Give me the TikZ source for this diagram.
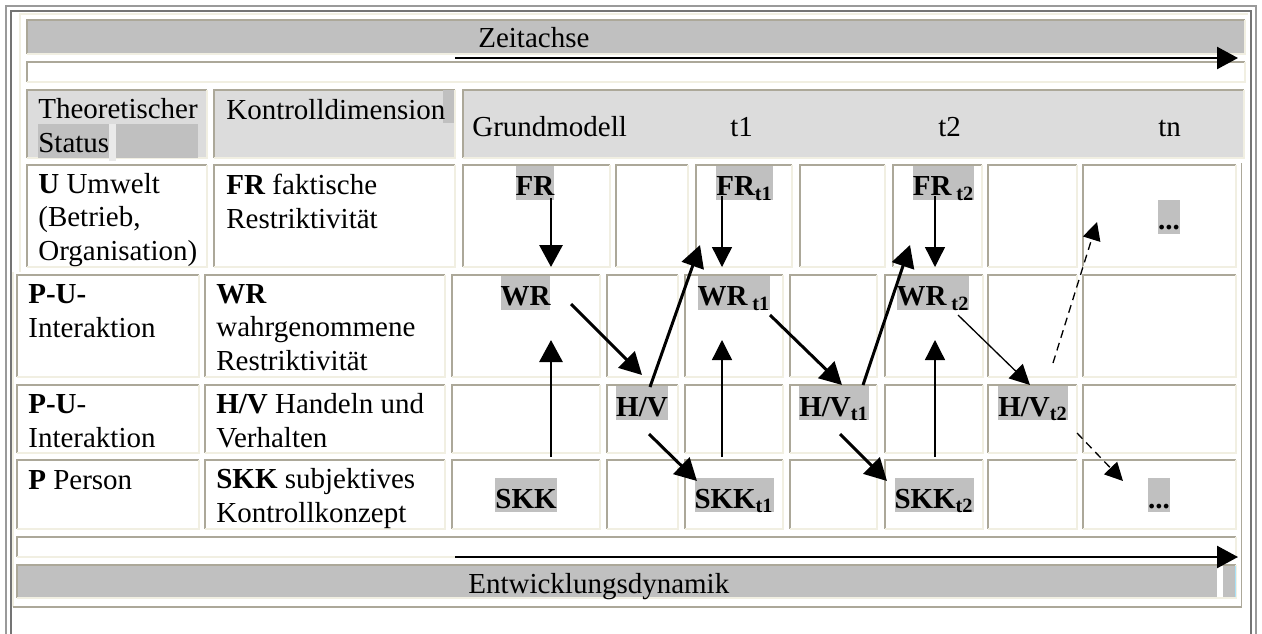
\documentclass[tikz,border=0pt]{standalone}
\usepackage{fontspec}
\setmainfont{Liberation Serif}
\usetikzlibrary{positioning}
\usetikzlibrary{arrows.meta}

\definecolor{hlgrey}{HTML}{C0C0C0}
\definecolor{headgrey}{HTML}{DCDCDC}
\definecolor{celldark}{HTML}{ACA899}
\definecolor{celllight}{HTML}{F1EFE2}
\definecolor{framegrey}{HTML}{9A9A9A}

\tikzset{
	% base anchor of a multi-line node = baseline of its last line
	txt/.style={anchor=base west, inner sep=0pt, align=left,
		font=\fontsize{16.5}{18.8}\selectfont},
	hl/.style={fill=hlgrey, inner sep=0pt, text height=0.6cm, text depth=0.08cm,
		font=\fontsize{16.5}{18.8}\selectfont\bfseries},
	thickarr/.style={line width=1.7pt, -{Triangle[length=0.44cm,width=0.46cm]}},
	thinarr/.style={line width=0.75pt, -{Triangle[length=0.40cm,width=0.40cm]}},
	dasharr/.style={line width=0.75pt, dash pattern=on 4.5pt off 3pt,
		-{Triangle[length=0.36cm,width=0.36cm]}},
	axisarr/.style={line width=1.4pt, -{Triangle[length=0.42cm,width=0.44cm]}},
}

% table cell, inset border: (#1,#2) top left, (#3,#4) bottom right, #5 fill
\newcommand{\wordcell}[5]{%
	\fill[#5] (#1,#2) rectangle (#3,#4);
	\draw[celldark, line width=0.9pt] (#1,#4) -- (#1,#2) -- (#3,#2);
	\draw[celllight, line width=0.9pt] (#3,#2) -- (#3,#4) -- (#1,#4);
}
\newcommand{\tsub}[1]{\textsubscript{#1}}

\begin{document}
\begin{tikzpicture}[x=0.02cm, y=-0.02cm]
	
	\useasboundingbox (0,0) rectangle (1262,633);
	
	% outer frame
	\draw[framegrey, line width=1.1pt] (6,6) rectangle (1256,660);
	\draw[framegrey!75!black, line width=1.1pt] (11,11) rectangle (1251,655);
	
	% table border (outset)
	\draw[celllight, line width=0.9pt] (20,272) -- (20,14) -- (1248,14);
	\draw[celllight, line width=0.9pt] (13,272) -- (13,607);
	\draw[celldark, line width=0.9pt] (1241.5,163) -- (1241.5,607) -- (13,607);
	
	% bars
	\wordcell{27}{20}{1245}{54}{hlgrey}
	\wordcell{27}{62}{1245}{82}{white}
	\wordcell{17}{537}{1236}{557}{white}
	\wordcell{17}{565}{1236}{598}{hlgrey}
	\fill[white] (1217,566) rectangle (1223,597);
	\draw[cyan!35, line width=0.6pt] (1235.5,566) -- (1235.5,597);
	
	% header row
	\wordcell{27}{90}{207}{158}{headgrey}
	\wordcell{214}{90}{455}{158}{headgrey}
	\wordcell{463}{90}{1244}{158}{headgrey}
	\fill[hlgrey] (38,124) rectangle (198,158);
	\fill[headgrey!60!white] (109,124) rectangle (116,161);
	\fill[hlgrey] (443,90) rectangle (454,123);
	
	% body rows
	\foreach \a/\b in {27/207, 214/455, 463/610, 616/688, 696/792,
		800/885, 893/982, 988/1077, 1083/1236}
		\wordcell{\a}{165}{\b}{267}{white};
	\foreach \ya/\yb in {275/377, 385/453, 460/529}
		\foreach \a/\b in {17/199, 205/445, 452/600, 607/678, 685/783,
			790/877, 885/983, 988/1077, 1083/1236}
			\wordcell{\a}{\ya}{\b}{\yb}{white};
	
	% texts
	\node[txt] (zeit) at (478,47) {Zeitachse};
	\node[txt] (entw) at (468,593) {Entwicklungsdynamik};
	
	\node[txt] (theo)  at (38,152)  {Theoretischer\\Status};
	\node[txt] (kontr) at (226,119) {Kontrolldimension};
	\node[txt] (grund) at (472,136) {Grundmodell};
	\node[txt] (tone)  at (730,136) {t1};
	\node[txt] (ttwo)  at (938,136) {t2};
	\node[txt] (tnn)   at (1158,136) {tn};
	
	\node[txt] (statU)   at (38,260)  {\textbf{U} Umwelt\\(Betrieb,\\Organisation)};
	\node[txt] (dimFR)   at (226,228) {\textbf{FR} faktische\\Restriktivität};
	\node[txt] (statPUa) at (28,337)  {\textbf{P-U-}\\Interaktion};
	\node[txt] (dimWR)   at (216,370) {\textbf{WR}\\wahrgenommene\\Restriktivität};
	\node[txt] (statPUb) at (28,447)  {\textbf{P-U}-\\Interaktion};
	\node[txt] (dimHV)   at (216,447) {\textbf{H/V} Handeln und\\Verhalten};
	\node[txt] (statP)   at (28,489)  {\textbf{P} Person};
	\node[txt] (dimSKK)  at (216,522) {\textbf{SKK} subjektives\\Kontrollkonzept};
	
	% model variables
	\node[hl] (FR)    at (535,182.5)  {FR};
	\node[hl] (FRa)   at (744.5,182.5) {FR\tsub{t1}};
	\node[hl] (FRb)   at (943.5,182.5) {FR\,\tsub{t2}};
	\node[hl] (dotsU) at (1169,216.5) {...};
	\node[hl] (WR)    at (525.5,292.5) {WR};
	\node[hl] (WRa)   at (734,292.5)  {WR\,\tsub{t1}};
	\node[hl] (WRb)   at (933,292.5)  {WR\,\tsub{t2}};
	\node[hl] (HV)    at (642,403)    {H/V};
	\node[hl] (HVa)   at (834,403)    {H/V\tsub{t1}};
	\node[hl] (HVb)   at (1033,403)   {H/V\tsub{t2}};
	\node[hl] (SKK)   at (526,495)    {SKK};
	\node[hl] (SKKa)  at (734,495)    {SKK\tsub{t1}};
	\node[hl] (SKKb)  at (934,495)    {SKK\tsub{t2}};
	\node[hl] (dotsP) at (1159,495)   {...};
	
	% arrow ends
	\coordinate (zS) at (455,58);   \coordinate (zE) at (1238,58);
	\coordinate (eS) at (455,557);  \coordinate (eE) at (1238,557);
	\coordinate (fr0) at (551,198); \coordinate (fr1) at (551,267);
	\coordinate (fa0) at (722,196); \coordinate (fa1) at (722,267);
	\coordinate (fb0) at (935,196); \coordinate (fb1) at (935,267);
	\coordinate (sk0) at (551,457); \coordinate (sk1) at (551,340);
	\coordinate (sa0) at (722,457); \coordinate (sa1) at (722,340);
	\coordinate (sb0) at (935,457); \coordinate (sb1) at (935,340);
	\coordinate (wr0) at (571,304); \coordinate (wr1) at (642,375);
	\coordinate (wa0) at (770,315); \coordinate (wa1) at (842,385);
	\coordinate (wb0) at (958,315); \coordinate (wb1) at (1030,385);
	\coordinate (hu0) at (650,387); \coordinate (hu1) at (700,245);
	\coordinate (ha0) at (863,385); \coordinate (ha1) at (910,245);
	\coordinate (hb0) at (1053,363); \coordinate (hb1) at (1097,222);
	\coordinate (hd0) at (649,434); \coordinate (hd1) at (697,481);
	\coordinate (he0) at (840,434); \coordinate (he1) at (887,481);
	\coordinate (hf0) at (1077,433); \coordinate (hf1) at (1123,481);
	
	% arrows
	\draw[axisarr] (zS) -- (zE);
	\draw[axisarr] (eS) -- (eE);
	
	\draw[thickarr] (fr0) -- (fr1);
	\draw[thinarr]  (fa0) -- (fa1);
	\draw[thinarr]  (fb0) -- (fb1);
	\draw[thickarr] (sk0) -- (sk1);
	\draw[thinarr]  (sa0) -- (sa1);
	\draw[thinarr]  (sb0) -- (sb1);
	\draw[thickarr] (wr0) -- (wr1);
	\draw[thickarr] (wa0) -- (wa1);
	\draw[thinarr]  (wb0) -- (wb1);
	\draw[thickarr] (hu0) -- (hu1);
	\draw[thickarr] (ha0) -- (ha1);
	\draw[dasharr]  (hb0) -- (hb1);
	\draw[thickarr] (hd0) -- (hd1);
	\draw[thickarr] (he0) -- (he1);
	\draw[dasharr]  (hf0) -- (hf1);
	
\end{tikzpicture}
\end{document}
